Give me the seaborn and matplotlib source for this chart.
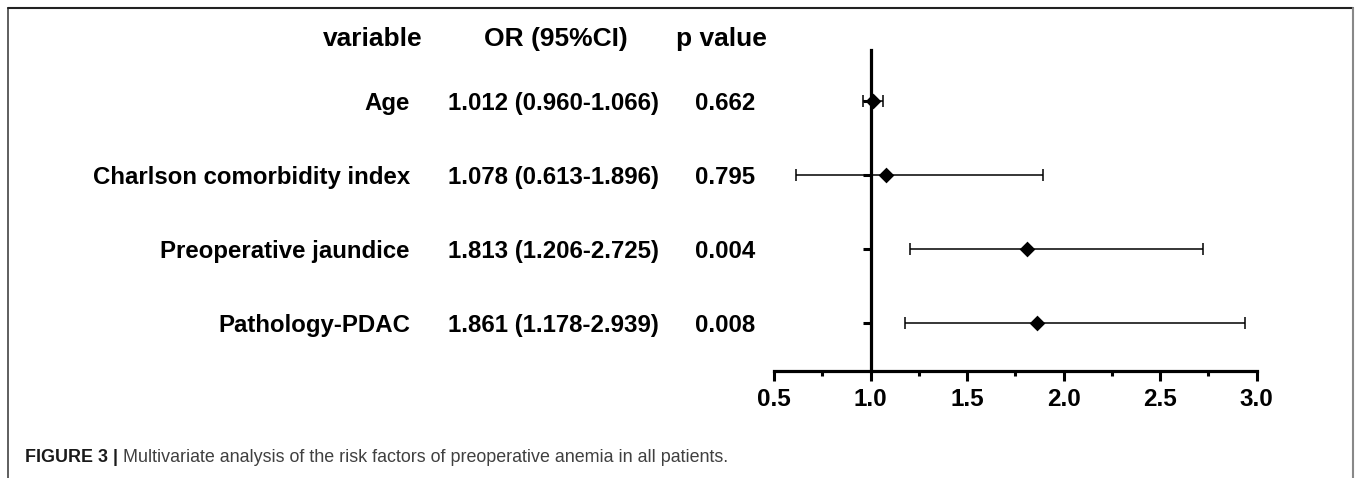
import matplotlib
matplotlib.use("Agg")
import matplotlib.pyplot as plt
import matplotlib.transforms as mtransforms
from matplotlib.lines import Line2D
from matplotlib.ticker import MultipleLocator, FixedLocator
import seaborn as sns
import pandas as pd

# ---- data ----
variables = ["Age", "Charlson comorbidity index", "Preoperative jaundice", "Pathology-PDAC"]
or_vals = [1.012, 1.078, 1.813, 1.861]
ci_low = [0.960, 0.613, 1.206, 1.178]
ci_high = [1.066, 1.896, 2.725, 2.939]
p_vals = ["0.662", "0.795", "0.004", "0.008"]
x_ticks = [0.5, 1.0, 1.5, 2.0, 2.5, 3.0]
headers = ["variable", "OR (95%CI)", "p value"]
caption_bold = "FIGURE 3 |"
caption_text = "Multivariate analysis of the risk factors of preoperative anemia in all patients."

df = pd.DataFrame({
    "variable": variables,
    "OR": or_vals,
    "low": ci_low,
    "high": ci_high,
    "row": list(range(len(variables))),
})

sns.set_style("white")
plt.rcParams["font.family"] = ["Liberation Sans", "DejaVu Sans"]
plt.rcParams["text.color"] = "black"
plt.rcParams["xtick.color"] = "black"
plt.rcParams["ytick.color"] = "black"
plt.rcParams["xtick.labelcolor"] = "black"
plt.rcParams["axes.edgecolor"] = "black"

W, H = 1357, 478
fig = plt.figure(figsize=(W / 100, H / 100), dpi=100)
ax = fig.add_axes([774 / W, (H - 371) / H, 482.5 / W, (371 - 50) / H])

# error bars (CI)
ax.errorbar(df["OR"], df["row"],
            xerr=[df["OR"] - df["low"], df["high"] - df["OR"]],
            fmt="none", ecolor="black", elinewidth=1.1, capsize=4.4,
            capthick=1.1, zorder=2)
# point estimates
sns.scatterplot(data=df, x="OR", y="row", marker="D", s=64, color="black",
                edgecolor="black", linewidth=0, ax=ax, zorder=3, legend=False)

ax.set_xlim(0.5, 3.0)
ax.set_ylim(3.649, -0.689)
ax.set_xlabel("")
ax.set_ylabel("")

for s in ["top", "right"]:
    ax.spines[s].set_visible(False)
ax.spines["left"].set_position(("data", 1.0))
ax.spines["left"].set_linewidth(2.3)
ax.spines["bottom"].set_linewidth(2.3)
ax.spines["left"].set_color("black")
ax.spines["bottom"].set_color("black")

ax.set_yticks(df["row"])
ax.set_yticklabels([""] * len(variables))
ax.tick_params(axis="y", which="major", direction="out", length=6, width=2.2,
               color="black", left=True)

ax.xaxis.set_major_locator(FixedLocator(x_ticks))
ax.xaxis.set_minor_locator(MultipleLocator(0.25))
ax.set_xticklabels([f"{v:.1f}" for v in x_ticks])
ax.tick_params(axis="x", which="major", direction="out", length=7, width=2.2,
               color="black", labelcolor="black", labelsize=17.5, pad=5, bottom=True)
ax.tick_params(axis="x", which="minor", direction="out", length=3.5, width=2.2,
               color="black", bottom=True)
for lbl in ax.get_xticklabels():
    lbl.set_fontweight("bold")
    lbl.set_color("black")

# table text
tr = mtransforms.blended_transform_factory(fig.transFigure, ax.transData)
dy = 0.03
for i, (v, o, l, h, p) in enumerate(zip(variables, or_vals, ci_low, ci_high, p_vals)):
    ax.text(410 / W, i + dy, v, transform=tr, ha="right", va="center", color="black",
            fontsize=17.3, fontweight="bold", clip_on=False)
    ax.text(553 / W, i + dy, f"{o:.3f} ({l:.3f}-{h:.3f})", transform=tr, ha="center",
            va="center", fontsize=17.3, fontweight="bold", color="black", clip_on=False)
    ax.text(725 / W, i + dy, p, transform=tr, ha="center", va="center", color="black",
            fontsize=17.3, fontweight="bold", clip_on=False)

hy = 1 - 39 / H
fig.text(423 / W, hy, headers[0], ha="right", va="center", fontsize=19,
         fontweight="bold", color="black")
fig.text(556 / W, hy, headers[1], ha="center", va="center", fontsize=19,
         fontweight="bold", color="black")
fig.text(721 / W, hy, headers[2], ha="center", va="center", fontsize=19,
         fontweight="bold", color="black")

# caption
cy = 1 - 458 / H
t1 = fig.text(25 / W, cy, caption_bold, ha="left", va="center", fontsize=12.9,
              fontweight="bold", color="#1a1a1a")
renderer = fig.canvas.get_renderer()
bb = t1.get_window_extent(renderer)
fig.text((bb.x1 + 5) / W, cy, caption_text, ha="left", va="center", fontsize=12.9,
         color="#404040")

# frame around figure (left, top, right)
fx0, fx1, fy = 7.5 / W, 1352.5 / W, 1 - 7.5 / H
fig.add_artist(Line2D([fx0, fx0], [0, fy], transform=fig.transFigure, color="#333333", lw=1.1))
fig.add_artist(Line2D([fx0, fx1], [fy, fy], transform=fig.transFigure, color="#222222", lw=1.5))
fig.add_artist(Line2D([fx1, fx1], [0, fy], transform=fig.transFigure, color="#888888", lw=1.5))

fig.savefig("out.png", dpi=100)
